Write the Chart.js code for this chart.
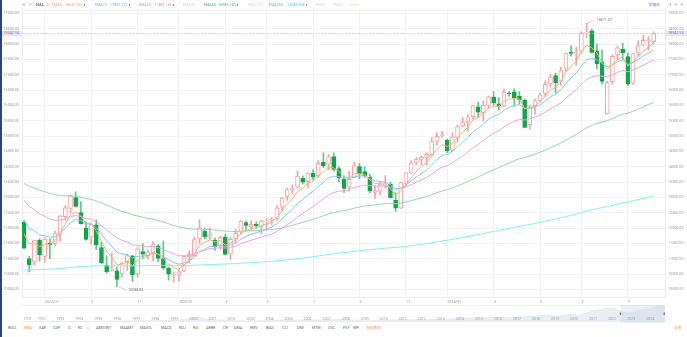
<!DOCTYPE html>
<html>
<head>
<meta charset="utf-8">
<script src="https://cdn.jsdelivr.net/npm/chart.js@4.4.1/dist/chart.umd.min.js"></script>
<style>
  html, body { margin: 0; padding: 0; background: #fff; }
  body { width: 687px; height: 337px; position: relative; overflow: hidden; font-family: Roboto, "Noto Sans CJK SC", sans-serif; }
  #edge { position: absolute; left: 0; top: 0; width: 1.5px; height: 337px; background: #27467f; z-index: 5; }
  #main { position: absolute; left: 0; top: 0; }
  #navbox { position: absolute; left: 22px; top: 305px; width: 643px; height: 18px; border-top: 1px solid #eef0f3; box-sizing: border-box; }
  #nav { position: absolute; left: 22px; top: 305px; }
  .t { position: absolute; font-size: 3.7px; line-height: 4px; white-space: nowrap; color: #666; z-index: 3; }
  .cjk { font-family: "Noto Sans CJK SC", sans-serif; }
  .mk { position: absolute; width: 1.4px; height: 1.4px; background: #f06262; z-index: 3; }
</style>
</head>
<body>
<div id="edge"></div>
<canvas id="main" width="687" height="305"></canvas>
<div id="navbox"></div>
<canvas id="nav" width="643" height="18"></canvas>
<div id="ui"></div>
<script>
// 周K线 2022/06 - 2024/10
const opens = [
  12186, 11005, 10890, 11600, 11070, 11510, 11500, 11800, 12370, 12640,
  12990, 12500, 11990, 11700, 12100, 11360, 10790, 10620, 10600, 10500,
  10900, 11090, 10500, 11230, 11090, 11190, 11420, 11000, 10690, 10460,
  10470, 10600, 11060, 11100, 11640, 11900, 11760, 11600, 11420, 11700,
  11150, 11640, 11860, 12180, 12040, 12130, 12050, 12200, 12240, 12300,
  12680, 13030, 13250, 13330, 13620, 13510, 13780, 13710, 14140, 14080,
  14330, 13940, 13590, 13330, 13630, 14000, 13840, 13650, 13160, 13200,
  13400, 13420, 12910, 12650, 13450, 13790, 14140, 14240, 14300, 14390,
  14820, 15000, 14870, 14540, 14950, 15320, 15460, 15630, 15950, 15760,
  16000, 16270, 16050, 15970, 16400, 16440, 16290, 16170, 15370, 15990,
  16160, 16390, 16700, 16970, 16790, 17180, 17730, 17690, 17770, 18360,
  18430, 17780, 17420, 15720, 16760, 17640, 17830, 17590, 16720, 17700,
  17960, 18090, 18080
];
const highs = [
  12254, 11080, 11610, 11652, 11690, 11650, 11900, 12410, 12730, 13080,
  13181, 12850, 12210, 12160, 12270, 11530, 11100, 11180, 10720, 10880,
  11150, 11110, 11360, 11480, 11290, 11560, 11470, 11570, 10720, 10560,
  10650, 11100, 11250, 11700, 12270, 12000, 12000, 11680, 11730, 11800,
  11700, 11950, 12240, 12230, 12240, 12200, 12260, 12310, 12350, 12730,
  13000, 13300, 13400, 13860, 13700, 13800, 13900, 14200, 14450, 14400,
  14450, 14000, 13700, 13850, 14150, 14100, 14000, 13750, 13400, 13500,
  13710, 13500, 13150, 13500, 13800, 14200, 14300, 14350, 14450, 14950,
  15100, 15150, 14900, 15100, 15350, 15600, 15700, 16000, 16100, 16150,
  16300, 16450, 16250, 16540, 16450, 16540, 16450, 16200, 16000, 16200,
  16400, 16800, 17000, 17050, 17250, 17700, 17950, 17900, 18400, 18671.07,
  18480, 18000, 17800, 16790, 17650, 17920, 18020, 17700, 17700, 18100,
  18300, 18240, 18400
];
const lows = [
  11317, 10565, 10790, 10920, 10880, 11000, 11420, 11570, 12260, 12500,
  12690, 12130, 11600, 11470, 11290, 10840, 10530, 10600, 10088.83, 10400,
  10620, 10262, 10400, 11000, 10990, 10920, 10900, 10650, 10300, 10230,
  10265, 10580, 10850, 11080, 11500, 11650, 11640, 11270, 11300, 11120,
  10980, 11500, 11800, 11920, 11950, 11990, 11800, 11930, 12120, 12250,
  12570, 12900, 13100, 13300, 13440, 13320, 13570, 13650, 13960, 13900,
  13850, 13500, 13160, 13200, 13630, 13610, 13650, 13150, 12960, 13090,
  13300, 12980, 12540, 12640, 13370, 13780, 14060, 14060, 14050, 14350,
  14700, 14950, 14450, 14500, 14800, 15300, 15150, 15550, 15600, 15500,
  15900, 16000, 15850, 15950, 16300, 15970, 16050, 15260, 15220, 15700,
  16130, 16300, 16600, 16400, 16650, 17100, 17600, 17300, 17700, 18200,
  17700, 17180, 16700, 15708, 16700, 17500, 17500, 16650, 16690, 17600,
  17940, 17800, 18000
];
const closes = [
  11340, 10798, 11608, 11128, 11635, 11452, 11834, 12391, 12658, 13047,
  12705, 12142, 11631, 12112, 11448, 10868, 10576, 10652, 10321, 10860,
  11102, 10475, 11323, 11146, 11226, 11462, 11005, 10705, 10498, 10466,
  10569, 11079, 11140, 11622, 12007, 11718, 11787, 11395, 11689, 11139,
  11631, 11824, 12222, 12088, 12123, 12072, 12227, 12235, 12285, 12658,
  12976, 13241, 13259, 13690, 13493, 13788, 13661, 14114, 14033, 14317,
  13909, 13645, 13291, 13591, 14032, 13762, 13708, 13212, 13219, 13431,
  13407, 12984, 12643, 13478, 13798, 14125, 14251, 14305, 14404, 14814,
  14993, 15011, 14524, 14973, 15311, 15455, 15629, 15991, 15776, 15997,
  16275, 16085, 15973, 16429, 16379, 16249, 16175, 15282, 15928, 16156,
  16341, 16686, 16921, 16735, 17133, 17689, 17689, 17733, 18353, 18398,
  17727, 17358, 16776, 16745, 17595, 17878, 17714, 16691, 17684, 17948,
  18120, 18138, 18342.94
];

const ema5 = [
  11812, 11474, 11519, 11389, 11471, 11465, 11588, 11856, 12123, 12431,
  12522, 12395, 12140, 12131, 11903, 11558, 11231, 11038, 10799, 10819,
  10913, 10767, 10952, 11017, 11087, 11212, 11143, 10997, 10831, 10709,
  10662, 10801, 10914, 11150, 11436, 11530, 11616, 11542, 11591, 11440,
  11504, 11611, 11815, 11906, 11978, 12009, 12082, 12133, 12184, 12342,
  12553, 12782, 12941, 13191, 13292, 13457, 13525, 13721, 13825, 13989,
  13962, 13856, 13668, 13642, 13772, 13769, 13749, 13570, 13453, 13446,
  13433, 13283, 13070, 13206, 13403, 13644, 13846, 13999, 14134, 14361,
  14572, 14718, 14653, 14760, 14944, 15114, 15286, 15521, 15606, 15736,
  15916, 15972, 15972, 16124, 16209, 16222, 16206, 15898, 15908, 15991,
  16108, 16301, 16508, 16584, 16767, 17074, 17279, 17430, 17738, 17958,
  17881, 17707, 17397, 17180, 17318, 17505, 17575, 17280, 17415, 17593,
  17769, 17892, 18042
];
const ema10 = [
  12247, 11984, 11916, 11773, 11748, 11694, 11719, 11841, 11990, 12182,
  12277, 12252, 12139, 12134, 12009, 11802, 11579, 11410, 11212, 11148,
  11140, 11019, 11074, 11087, 11112, 11176, 11145, 11065, 10962, 10872,
  10817, 10865, 10915, 11044, 11219, 11310, 11397, 11397, 11450, 11393,
  11436, 11507, 11637, 11719, 11792, 11843, 11913, 11972, 12029, 12143,
  12294, 12466, 12610, 12806, 12931, 13087, 13191, 13359, 13482, 13634,
  13684, 13677, 13607, 13604, 13682, 13697, 13699, 13610, 13539, 13519,
  13499, 13405, 13266, 13305, 13395, 13528, 13659, 13776, 13890, 14058,
  14228, 14370, 14398, 14503, 14650, 14796, 14947, 15137, 15253, 15388,
  15549, 15646, 15705, 15837, 15936, 15993, 16026, 15891, 15898, 15945,
  16017, 16139, 16281, 16364, 16504, 16719, 16895, 17047, 17284, 17487,
  17531, 17500, 17368, 17255, 17317, 17419, 17473, 17331, 17395, 17496,
  17609, 17705, 17802
];
const ema20 = [
  12908, 12707, 12602, 12462, 12383, 12294, 12250, 12263, 12301, 12372,
  12404, 12379, 12308, 12289, 12209, 12081, 11938, 11816, 11674, 11597,
  11550, 11448, 11436, 11408, 11391, 11398, 11361, 11299, 11223, 11151,
  11096, 11094, 11098, 11148, 11230, 11276, 11325, 11332, 11366, 11344,
  11371, 11414, 11491, 11548, 11603, 11648, 11703, 11754, 11805, 11886,
  11990, 12109, 12218, 12358, 12466, 12592, 12694, 12829, 12944, 13075,
  13154, 13201, 13210, 13246, 13321, 13363, 13396, 13378, 13363, 13369,
  13373, 13336, 13270, 13290, 13338, 13413, 13493, 13570, 13649, 13760,
  13877, 13985, 14036, 14125, 14238, 14354, 14475, 14619, 14729, 14850,
  14986, 15091, 15175, 15294, 15397, 15478, 15544, 15519, 15558, 15615,
  15684, 15779, 15888, 15969, 16080, 16233, 16372, 16502, 16678, 16842,
  16926, 16967, 16949, 16930, 16993, 17077, 17138, 17095, 17151, 17227,
  17312, 17391, 17483
];
const ema60 = [
  13450, 13363, 13305, 13234, 13182, 13125, 13083, 13060, 13047, 13047,
  13036, 13007, 12962, 12934, 12885, 12819, 12745, 12676, 12599, 12542,
  12495, 12429, 12393, 12352, 12315, 12287, 12245, 12195, 12139, 12084,
  12034, 12003, 11975, 11963, 11964, 11956, 11950, 11932, 11924, 11898,
  11889, 11887, 11898, 11904, 11911, 11916, 11926, 11936, 11947, 11970,
  12003, 12044, 12084, 12137, 12181, 12234, 12281, 12341, 12396, 12459,
  12507, 12544, 12568, 12602, 12649, 12685, 12719, 12735, 12751, 12773,
  12794, 12800, 12795, 12817, 12849, 12891, 12936, 12981, 13028, 13087,
  13149, 13210, 13253, 13309, 13375, 13443, 13515, 13596, 13667, 13743,
  13826, 13900, 13968, 14049, 14125, 14195, 14260, 14294, 14348, 14407,
  14470, 14543, 14621, 14690, 14770, 14866, 14959, 15050, 15158, 15264,
  15345, 15411, 15456, 15498, 15567, 15643, 15711, 15743, 15807, 15877,
  15951, 16023, 16089
];
const ema250 = [
  10630, 10631, 10639, 10643, 10651, 10657, 10667, 10681, 10696, 10715,
  10731, 10742, 10749, 10760, 10766, 10767, 10765, 10764, 10761, 10762,
  10764, 10762, 10766, 10769, 10773, 10779, 10780, 10780, 10778, 10775,
  10773, 10776, 10779, 10785, 10795, 10802, 10810, 10815, 10822, 10825,
  10831, 10839, 10850, 10860, 10870, 10880, 10891, 10902, 10913, 10927,
  10943, 10961, 10979, 11001, 11021, 11043, 11064, 11088, 11112, 11138,
  11160, 11180, 11197, 11216, 11239, 11259, 11279, 11294, 11309, 11326,
  11343, 11356, 11366, 11383, 11402, 11424, 11447, 11470, 11493, 11520,
  11548, 11576, 11600, 11627, 11656, 11686, 11718, 11752, 11784, 11818,
  11854, 11888, 11921, 11957, 11992, 12026, 12059, 12085, 12116, 12148,
  12182, 12218, 12256, 12292, 12331, 12374, 12416, 12459, 12506, 12553,
  12594, 12632, 12665, 12698, 12737, 12778, 12818, 12849, 12888, 12928,
  12970, 13011, 13049
];

const yTicks = [10000, 10500, 11000, 11500, 12000, 12500, 13000, 13500, 14000,
  14500, 15000, 15500, 16000, 16500, 17000, 17500, 18000, 18500, 19000];
const tickWeeks = [4, 13, 22, 30, 39, 47, 56, 65, 74, 82, 91, 100, 108, 117];
const tickText = ['2022/07', '9', '11', '2023/01', '3', '5', '7', '9', '11', '2024/01', '3', '5', '7', '9'];

const emaNames = ['EMA5', 'EMA10', 'EMA20', 'EMA30', 'EMA60', 'EMA120', 'EMA250', 'EMA1', 'EMA2', 'EMA3'];
const emaValues = ['18042.963', '17802.272', '17483.136', '', '16089.250', '', '13049.204', '', '', ''];

// 缩略图
const navDates = [1991, 1992, 1993, 1994, 1995, 1996, 1997, 1998, 1999, 2000, 2000.2, 2001, 2002, 2002.8,
  2003, 2004, 2005, 2006, 2007, 2007.8, 2008, 2009, 2009.2, 2010, 2011, 2012, 2013, 2014, 2015, 2016,
  2017, 2018, 2018.7, 2019, 2020, 2020.2, 2021, 2021.9, 2022, 2022.8, 2023, 2023.5, 2024, 2024.5, 2024.78];
const navValues = [374, 586, 677, 777, 752, 1052, 1291, 1570, 2193, 4069, 5048, 2471, 1950, 1114,
  1336, 2003, 2175, 2205, 2415, 2860, 2652, 1577, 1268, 2269, 2653, 2605, 3020, 4177, 4736, 5007,
  5383, 6903, 8100, 6635, 8973, 7000, 12888, 16000, 15645, 10300, 10466, 14000, 15011, 18500, 18343];
const navYears = [1991, 1992, 1993, 1994, 1995, 1996, 1997, 1998, 1999, 2000, 2001, 2002, 2003, 2004,
  2005, 2006, 2007, 2008, 2009, 2010, 2011, 2012, 2013, 2014, 2015, 2016, 2017, 2018, 2019, 2020,
  2021, 2022, 2023, 2024];
const viewFrom = 2022.44;

const indicators = ['BOLL', 'EMA', 'SAR', 'CDP', 'IC', 'KC', '>', 'AMOUNT', 'MAAMT', 'MAVOL', 'MACD', 'KDJ',
  'RSI', 'ARBR', 'CR', 'DMA', 'EMV', 'BIAS', 'CCI', 'DMI', 'MTM', 'OSC', 'PSY', 'WR', '指标管理'];

// ---------- 样式 ----------
const UP = '#f3a2a2';
const DOWN = '#0ea64c';
const DOWN_WICK = '#62c48c';
const lineColors = ['#f6b27a', '#82cbf0', '#eea2e2', '#8fd9ae', '#7ef1f2'];
const legendColors = ['#f5a65b', '#5fb8ea', '#e57fd8', '#cfcaf0', '#39c07a', '#f7cbd4', '#2ed3e0', '#d6d6d6', '#dcd0f0', '#f3e2b0'];
const legendOn = [true, true, true, false, true, false, true, false, false, false];
const legendX = [52, 95, 139, 183, 204, 248, 269, 316, 333, 350];
const valueX = [65, 110, 154, 0, 218, 0, 287, 0, 0, 0];
const indicatorX = [8, 24, 39, 53, 68, 78, 87, 96, 120, 140, 161, 179, 193, 206, 223, 234, 250, 266, 282, 297, 312, 328, 343, 353, 366];

Chart.defaults.font.family = 'Roboto';

const isUp = closes.map((c, i) => c >= opens[i]);
const pts = arr => arr.map((v, i) => ({ x: i, y: v }));

const lineSet = (label, arr, color) => ({
  type: 'line', label, data: pts(arr), borderColor: color, borderWidth: 1,
  pointRadius: 0, tension: 0, order: 0
});

const yAxis = pos => ({
  position: pos, min: 9750, max: 19125,
  afterBuildTicks: s => { s.ticks = yTicks.map(v => ({ value: v })); },
  afterFit: s => { s.width = 22; },
  ticks: { callback: v => Number(v).toFixed(2), padding: 3, color: '#9a9a9a', font: { size: 3.7 } },
  grid: { display: pos === 'left', color: '#f3f3f3', drawTicks: false },
  border: { color: '#ececec' }
});

const overlay = {
  id: 'overlay',
  afterDraw(chart) {
    const { ctx, chartArea: a, scales: { x, y } } = chart;
    ctx.save();
    ctx.strokeStyle = '#ececec';
    ctx.lineWidth = 1;
    ctx.beginPath();
    ctx.moveTo(a.left, a.top + 0.5);
    ctx.lineTo(a.right, a.top + 0.5);
    ctx.stroke();

    // 最新价
    const last = closes[closes.length - 1];
    const py = y.getPixelForValue(last);
    ctx.setLineDash([1.6, 1.4]);
    ctx.strokeStyle = '#f8b47c';
    ctx.lineWidth = 0.8;
    ctx.beginPath();
    ctx.moveTo(a.left, py);
    ctx.lineTo(a.right, py);
    ctx.stroke();
    ctx.setLineDash([]);
    ctx.fillStyle = '#dce9f8';
    ctx.fillRect(2, py - 2.8, a.left - 2, 5.6);
    ctx.fillRect(a.right, py - 2.8, chart.width - a.right, 5.6);
    ctx.fillStyle = '#ef5350';
    ctx.font = '3.7px Roboto';
    ctx.textBaseline = 'middle';
    ctx.textAlign = 'right';
    ctx.fillText(last.toFixed(2), a.left - 3, py);
    ctx.textAlign = 'left';
    ctx.fillText(last.toFixed(2), a.right + 3, py);

    // 最高 / 最低
    const hi = highs.indexOf(Math.max(...highs));
    const lo = lows.indexOf(Math.min(...lows));
    const hx = x.getPixelForValue(hi), hy = y.getPixelForValue(highs[hi]);
    const lx = x.getPixelForValue(lo), ly = y.getPixelForValue(lows[lo]);
    ctx.strokeStyle = '#aaa';
    ctx.lineWidth = 0.5;
    ctx.beginPath();
    ctx.moveTo(hx, hy); ctx.lineTo(hx + 8, hy - 3);
    ctx.moveTo(lx, ly); ctx.lineTo(lx + 9, ly + 3);
    ctx.stroke();
    ctx.fillStyle = '#777';
    ctx.fillText(highs[hi].toFixed(2), hx + 10, hy - 3);
    ctx.fillText(lows[lo].toFixed(2), lx + 11, ly + 3);
    ctx.restore();
  }
};

new Chart(document.getElementById('main'), {
  type: 'bar',
  data: {
    datasets: [
      lineSet('EMA5', ema5, lineColors[0]),
      lineSet('EMA10', ema10, lineColors[1]),
      lineSet('EMA20', ema20, lineColors[2]),
      lineSet('EMA60', ema60, lineColors[3]),
      lineSet('EMA250', ema250, lineColors[4]),
      {
        label: 'body',
        data: opens.map((o, i) => ({ x: i, y: [o, closes[i]] })),
        backgroundColor: isUp.map(u => u ? '#ffffff' : DOWN),
        borderColor: isUp.map(u => u ? UP : DOWN),
        borderWidth: 1, borderSkipped: false, minBarLength: 1,
        barThickness: 4, grouped: false, order: 5
      },
      {
        label: 'wick',
        data: lows.map((l, i) => ({ x: i, y: [l, highs[i]] })),
        backgroundColor: isUp.map(u => u ? UP : DOWN_WICK),
        barThickness: 1, grouped: false, order: 6
      }
    ]
  },
  options: {
    responsive: false, animation: false, devicePixelRatio: 1,
    layout: { padding: { top: 9.5 } },
    plugins: { legend: { display: false }, tooltip: { enabled: false } },
    scales: {
      x: {
        type: 'linear', min: -0.4, max: 124.2, offset: false,
        afterBuildTicks: s => { s.ticks = tickWeeks.map(v => ({ value: v })); },
        afterFit: s => { s.height = 8; },
        ticks: {
          callback: (v, i) => tickText[i], align: 'start', padding: 2.5,
          autoSkip: false, maxRotation: 0, color: '#9a9a9a', font: { size: 3.7 }
        },
        grid: { color: '#f1f1f1', drawTicks: false, offset: false },
        border: { color: '#ececec' }
      },
      y: yAxis('left'),
      y2: yAxis('right')
    }
  },
  plugins: [overlay]
});

// ---------- 缩略图 ----------
const navOverlay = {
  id: 'navOverlay',
  afterDraw(chart) {
    const { ctx, chartArea: a, scales: { x } } = chart;
    ctx.save();
    const sx = x.getPixelForValue(viewFrom);
    ctx.fillStyle = 'rgba(196, 210, 228, 0.35)';
    ctx.fillRect(sx, 0, a.right - sx, chart.height);
    ctx.fillStyle = '#777';
    ctx.fillRect(sx - 0.7, 7.5, 1.4, 2.5);
    ctx.fillRect(a.right - 1.4, 7.5, 1.4, 2.5);
    ctx.font = '3.7px Roboto';
    ctx.fillStyle = '#a0a0a0';
    ctx.textBaseline = 'middle';
    navYears.forEach((yr, i) => {
      ctx.textAlign = i === 0 ? 'left' : 'center';
      ctx.fillText(String(yr), x.getPixelForValue(yr) + (i === 0 ? 1.5 : 0), 14);
    });
    ctx.restore();
  }
};

new Chart(document.getElementById('nav'), {
  type: 'line',
  data: {
    datasets: [{
      data: navDates.map((d, i) => ({ x: d, y: navValues[i] })),
      borderColor: '#dde4ec', borderWidth: 0.6, backgroundColor: '#e9eef4',
      fill: 'origin', pointRadius: 0, tension: 0
    }]
  },
  options: {
    responsive: false, animation: false, devicePixelRatio: 1,
    layout: { padding: { bottom: 1 } },
    plugins: { legend: { display: false }, tooltip: { enabled: false } },
    scales: {
      x: { type: 'linear', min: 1991, max: 2024.78, display: false },
      y: { min: 0, max: 19500, display: false }
    }
  },
  plugins: [navOverlay]
});

// ---------- 顶部与底部文字 ----------
const ui = document.getElementById('ui');
function put(text, left, top, color, cls) {
  const el = document.createElement('div');
  el.className = 't' + (cls ? ' ' + cls : '');
  el.textContent = text;
  el.style.left = left + 'px';
  el.style.top = top + 'px';
  if (color) el.style.color = color;
  ui.appendChild(el);
  return el;
}
function mark(left, top) {
  const el = document.createElement('div');
  el.className = 'mk';
  el.style.left = left + 'px';
  el.style.top = top + 'px';
  ui.appendChild(el);
}

put('⊝', 22, 3, '#999');
put('⊙', 28.5, 3, '#999');
put('EMA', 36, 3, '#444');
put('∨', 46.5, 3, '#999');
emaNames.forEach((n, i) => {
  put(n, legendX[i], 3, legendColors[i]);
  if (legendOn[i]) {
    put(emaValues[i], valueX[i], 3, legendColors[i]);
    mark(valueX[i] + 18.5, 4.3);
  }
});
put('前复权', 649, 2.8, '#4a86e8', 'cjk');
put('↺', 668, 3, '#999');
put('⊖', 674, 3, '#999');
put('⊕', 680, 3, '#999');

indicators.forEach((n, i) => {
  const orange = n === 'EMA' || n === '指标管理';
  put(n, indicatorX[i], 326, orange ? '#f39a4c' : '#666', /[^\x00-\x7f]/.test(n) ? 'cjk' : '');
});
put('|', 362, 326, '#ddd');
put('设置', 674, 326, '#f39a4c', 'cjk');
</script>
</body>
</html>
